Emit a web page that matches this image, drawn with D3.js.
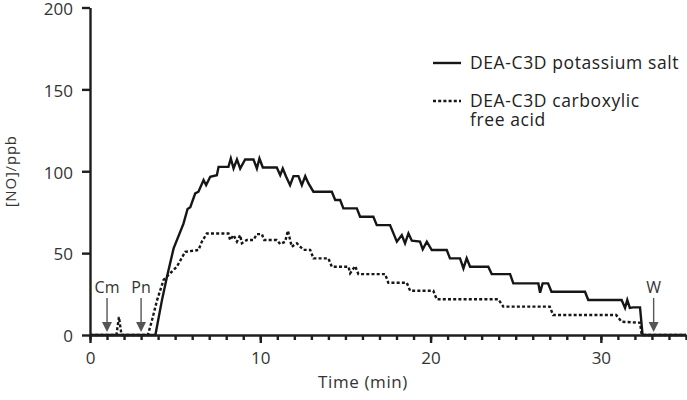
<!DOCTYPE html>
<html lang="en">
<head>
  <meta charset="UTF-8">
  <title>NO release</title>
  <script src="https://d3js.org/d3.v7.min.js"></script>
  <style>
    body { margin: 0; background: #fff; font-family: "Open Sans", sans-serif; }
    .line { fill: none; stroke: #161616; stroke-width: 2.4px; stroke-linejoin: miter; }
    .axis path, .axis line { stroke: #1e1e1e; stroke-width: 2.4px; }
    .axis text { font-family: "Open Sans", sans-serif; font-size: 17px; fill: #333; }
  </style>
</head>
<body>
  <svg width="687" height="400"></svg>

  <script>
    // [time (min), NO (ppb)]
    const saltSeries = [
      [0, 0], [3.84, 0], [4.22, 21], [4.52, 35.6], [4.91, 52.9], [5.49, 68], [5.73, 77], [5.89, 78],
      [6.18, 86.5], [6.37, 87.5], [6.67, 94.6], [6.82, 91.5], [7.06, 96.6], [7.45, 97.6], [7.55, 102.7],
      [8.13, 102.7], [8.27, 107.8], [8.43, 101.7], [8.63, 107.2], [8.82, 101.7], [9.11, 107.2], [9.6, 107.2],
      [9.8, 101.7], [9.95, 107.8], [10.15, 102.3], [10.97, 102.3], [11.17, 97.6], [11.32, 101.7], [11.52, 96.6],
      [11.75, 91.5], [11.95, 97], [12.24, 97], [12.44, 91.5], [12.64, 97], [12.83, 92.6], [13.12, 87.5],
      [14.2, 87.5], [14.4, 82.4], [14.69, 82.4], [14.88, 77.3], [15.67, 77.3], [15.86, 72.2], [16.64, 72.2],
      [16.84, 67.1], [17.62, 67.1], [18.02, 57], [18.31, 61], [18.5, 56], [18.7, 62], [18.9, 57.6], [19.38, 57],
      [19.54, 52.3], [19.78, 57], [20.07, 51.9], [20.95, 51.9], [21.14, 46.8], [21.73, 46.8], [21.93, 40.7],
      [22.12, 46.8], [22.32, 41.7], [23.39, 41.7], [23.59, 37.2], [24.67, 37.2], [24.86, 31.5], [26.33, 31.5],
      [26.43, 25.8], [26.58, 31.5], [26.9, 31.5], [27.1, 26.4], [29.07, 26.4], [29.26, 21.4], [31.22, 21.4],
      [31.42, 16.5], [31.55, 21.4], [31.7, 16.5], [31.9, 16.9], [32.3, 16.9], [32.45, 0], [35, 0]
    ];
    const acidSeries = [
      [0, 0], [1.55, 0], [1.7, 11], [1.85, 0], [3.4, 0], [3.64, 9], [3.93, 21], [4.32, 33.6], [4.71, 37.7],
      [5.1, 41.7], [5.59, 50.8], [6.37, 51.9], [6.57, 57], [6.86, 62], [8.13, 62], [8.23, 58], [8.43, 61],
      [8.63, 57], [8.82, 61], [8.92, 56], [9.21, 58], [9.6, 58], [9.8, 61.6], [10.09, 61.6], [10.23, 58],
      [10.97, 58], [11.17, 55.5], [11.46, 57], [11.62, 63.7], [11.85, 53.9], [12.15, 56], [12.34, 54],
      [12.54, 52], [12.93, 52], [13.12, 46.8], [14.0, 46.8], [14.2, 41.7], [15.18, 41.7], [15.28, 37.7],
      [15.57, 42.1], [15.76, 37.2], [17.33, 37.2], [17.52, 31.9], [18.6, 31.9], [18.8, 27], [20.16, 27],
      [20.36, 21.8], [23.98, 21.8], [24.27, 17.3], [27.0, 17.3], [27.2, 12.2], [30.9, 12.2], [31.22, 8.1],
      [32.3, 7.5], [32.4, 0], [35, 0]
    ];
    const seriesNames = ["DEA-C3D potassium salt", "DEA-C3D carboxylic\nfree acid"];
    const yTicks = [0, 50, 100, 150, 200];
    const xTicks = [0, 10, 20, 30];
    // event markers: label and time (min)
    const markers = [["Cm", 1], ["Pn", 3], ["W", 33.1]];

    const svg = d3.select("svg");
    const margin = { top: 7.5, right: 1, bottom: 65, left: 90 };
    const width = +svg.attr("width");
    const height = +svg.attr("height");

    const x = d3.scaleLinear().domain([0, 35]).range([margin.left, width - margin.right]);
    const y = d3.scaleLinear().domain([0, 200]).range([height - margin.bottom, margin.top]);

    const line = d3.line().x(d => x(d[0])).y(d => y(d[1]));

    // lines first so the axis sits on top of the zero stretches
    svg.append("path").attr("class", "line").attr("d", line(saltSeries));
    svg.append("path").attr("class", "line")
      .attr("stroke-dasharray", "3,2.2")
      .attr("d", line(acidSeries));

    // x axis: minor ticks every minute, labelled every 10
    svg.append("g")
      .attr("class", "axis")
      .attr("transform", `translate(0,${y(0)})`)
      .call(d3.axisBottom(x).tickValues(d3.range(0, 36)).tickSize(5).tickFormat(""))
      .call(g => g.select(".domain").remove());
    svg.append("g")
      .attr("class", "axis")
      .attr("transform", `translate(0,${y(0)})`)
      .call(d3.axisBottom(x).tickValues(xTicks).tickSize(8).tickSizeOuter(0).tickPadding(9));

    svg.append("g")
      .attr("class", "axis")
      .attr("transform", `translate(${x(0)},0)`)
      .call(d3.axisLeft(y).tickValues(yTicks).tickSize(8).tickSizeOuter(0).tickPadding(9))
      .call(g => g.selectAll("text").attr("dy", "0.4em"));

    // event arrows
    const mk = svg.append("g");
    markers.forEach(([label, t]) => {
      const cx = x(t);
      mk.append("text")
        .attr("x", cx).attr("y", y(0) - 42)
        .attr("text-anchor", "middle")
        .attr("font-size", 16).attr("fill", "#333")
        .text(label);
      mk.append("line")
        .attr("x1", cx).attr("x2", cx)
        .attr("y1", y(0) - 37).attr("y2", y(0) - 12)
        .attr("stroke", "#555").attr("stroke-width", 1.4);
      mk.append("path")
        .attr("d", `M${cx - 5},${y(0) - 13}L${cx + 5},${y(0) - 13}L${cx},${y(0) - 3}Z`)
        .attr("fill", "#555");
    });

    // axis titles
    svg.append("text")
      .attr("x", 363).attr("y", height - 12)
      .attr("text-anchor", "middle")
      .attr("font-size", 17).attr("letter-spacing", 0.6).attr("fill", "#333")
      .text("Time (min)");
    svg.append("text")
      .attr("transform", `translate(15.5,${y(100)}) rotate(-90)`)
      .attr("text-anchor", "middle")
      .attr("font-size", 15).attr("letter-spacing", 0.8).attr("fill", "#333")
      .text("[NO]/ppb");

    // legend
    const legend = svg.append("g").attr("transform", "translate(433,63)");
    seriesNames.forEach((name, i) => {
      const g = legend.append("g").attr("transform", `translate(0,${i * 38})`);
      g.append("line")
        .attr("x1", 0).attr("x2", 28)
        .attr("class", "line")
        .attr("stroke-dasharray", i === 1 ? "3,2.2" : null);
      const t = g.append("text")
        .attr("x", 37).attr("y", 6)
        .attr("font-size", 17.5).attr("letter-spacing", 0.6).attr("fill", "#222");
      name.split("\n").forEach((s, j) => {
        t.append("tspan").attr("x", 37).attr("dy", j === 0 ? 0 : 19).text(s);
      });
    });
  </script>
</body>
</html>
